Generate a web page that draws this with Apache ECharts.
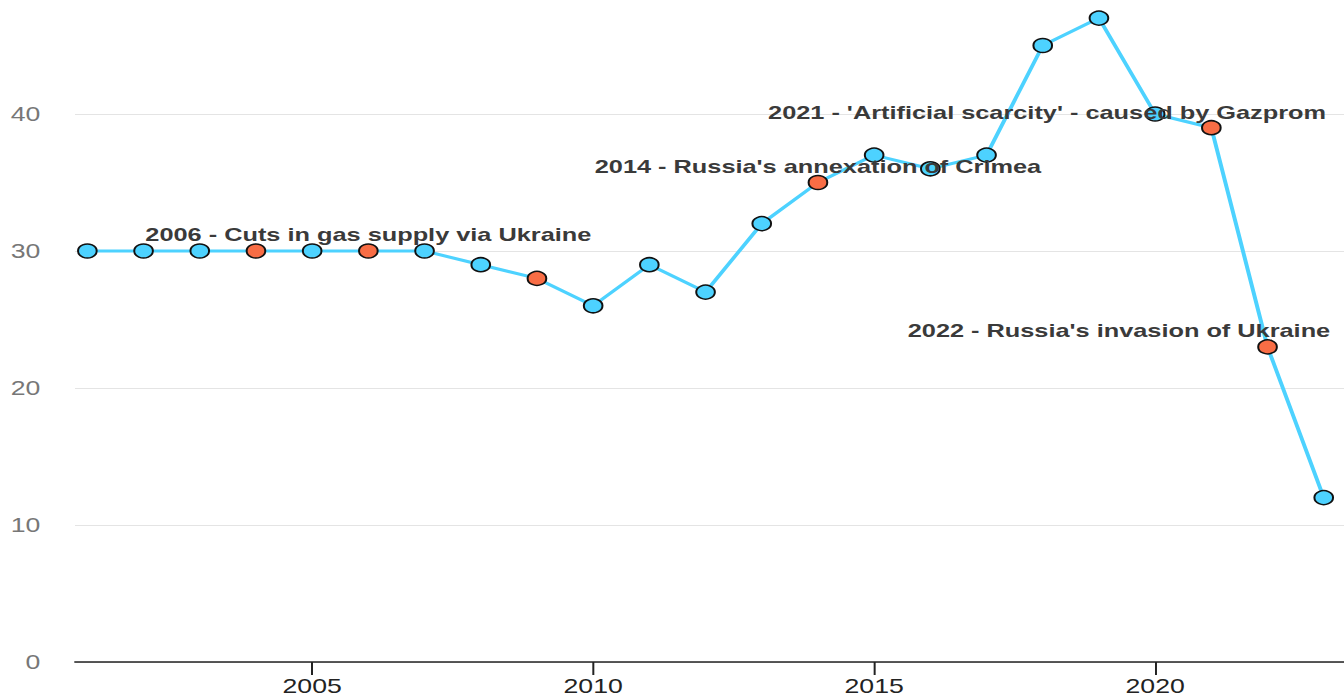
<!DOCTYPE html>
<html>
<head>
    <meta charset="utf-8">
    <title>Gas share chart</title>
    <script src="https://cdn.jsdelivr.net/npm/echarts@6/dist/echarts.min.js"></script>
    <style>
        html, body { margin: 0; padding: 0; background: #fff; overflow: hidden; }
        /* the reference is drawn wide: render narrower and stretch horizontally */
        #main { width: 1008px; height: 696px; transform: scaleX(1.3333); transform-origin: 0 0; }
    </style>
</head>
<body>
    <div id="main"></div>
    <script type="text/javascript">
        var years = [2001, 2002, 2003, 2004, 2005, 2006, 2007, 2008, 2009, 2010, 2011, 2012,
                     2013, 2014, 2015, 2016, 2017, 2018, 2019, 2020, 2021, 2022, 2023];
        var values = [30, 30, 30, 30, 30, 30, 30, 29, 28, 26, 29, 27,
                      32, 35, 37, 36, 37, 45, 47, 40, 39, 23, 12];
        var highlightYears = [2004, 2006, 2009, 2014, 2021, 2022];
        var xTickLabels = [2005, 2010, 2015, 2020];

        var noteYears = [2006, 2014, 2021, 2022];
        var noteTexts = [
            '2006 - Cuts in gas supply via Ukraine',
            "2014 - Russia's annexation of Crimea",
            "2021 - 'Artificial scarcity' - caused by Gazprom",
            "2022 - Russia's invasion of Ukraine"
        ];
        // label placement around the point (center or pushed left of the right edge)
        var noteAlign = ['center', 'center', 'right', 'right'];
        var noteOffset = [[0, -16], [0, -16], [86, -15], [47, -16]];

        var blue = '#4dd2ff';
        var orange = '#f86d45';

        var points = years.map(function (y, i) {
            var item = {
                value: [y, values[i]],
                itemStyle: { color: highlightYears.indexOf(y) >= 0 ? orange : blue }
            };
            var n = noteYears.indexOf(y);
            if (n >= 0) {
                item.label = {
                    show: true,
                    position: 'inside',
                    align: noteAlign[n],
                    offset: noteOffset[n],
                    formatter: noteTexts[n]
                };
            }
            return item;
        });

        var myChart = echarts.init(document.getElementById('main'), null, { renderer: 'svg' });
        var option = {
            animation: false,
            // top of the value range (50) sits just above the visible area
            grid: { left: 56.25, right: 0, top: -23, bottom: 34, outerBoundsMode: 'none' },
            xAxis: {
                type: 'value',
                min: 2000.78,
                max: 2023.36,
                splitLine: { show: false },
                axisLine: { show: true, lineStyle: { color: '#222', width: 1.5 } },
                axisTick: {
                    show: true, length: 13, customValues: xTickLabels,
                    lineStyle: { color: '#222', width: 1.5 }
                },
                axisLabel: {
                    customValues: xTickLabels,
                    margin: 14,
                    fontSize: 20,
                    color: '#222',
                    fontFamily: 'Liberation Sans, Arial, sans-serif',
                    formatter: function (v) { return String(v); }
                }
            },
            yAxis: {
                type: 'value',
                min: 0,
                max: 50,
                interval: 10,
                axisLine: { show: false },
                axisTick: { show: false },
                splitLine: { lineStyle: { color: '#e4e4e4', width: 1 } },
                axisLabel: {
                    showMaxLabel: false,
                    margin: 26,
                    fontSize: 20,
                    color: '#777',
                    fontFamily: 'Liberation Sans, Arial, sans-serif'
                }
            },
            series: [{
                type: 'line',
                data: points,
                symbol: 'circle',
                symbolSize: 14,
                lineStyle: { color: blue, width: 3 },
                itemStyle: { borderColor: '#111', borderWidth: 1.5 },
                label: {
                    fontSize: 19,
                    fontWeight: 'bold',
                    color: '#3a3a3a',
                    fontFamily: 'Liberation Sans, Arial, sans-serif'
                },
                emphasis: { disabled: true }
            }]
        };
        myChart.setOption(option);
    </script>
</body>
</html>
